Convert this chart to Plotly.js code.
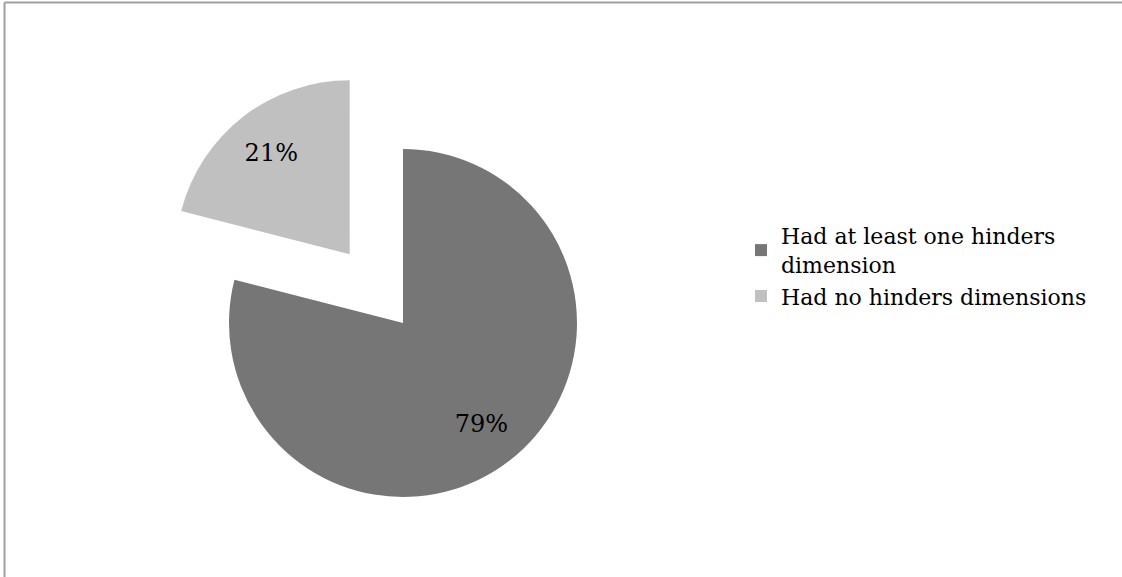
<!DOCTYPE html>
<html>
<head>
<meta charset="utf-8">
<script src="https://cdn.plot.ly/plotly-3.0.1.min.js"></script>
<style>
html,body{margin:0;padding:0;overflow:hidden;background:#fff;}
#chart{width:1122px;height:600px;}
</style>
</head>
<body>
<div id="chart"></div>
<script>
const categories = ["Had at least one hinders<br>dimension", "Had no hinders dimensions"];
const values = [79, 21];
const colors = ["#767676", "#c0c0c0"];
const pulls = [0, 0.5];

const W = 1122, H = 600;
const cx = 403, cy = 323, r = 174;
const half = r * (1 + 0.5);
const domain = {
  x: [(cx - half) / W, (cx + half) / W],
  y: [1 - (cy + half) / H, 1 - (cy - half) / H]
};

// visible slices
const pieTrace = {
  type: "pie",
  labels: categories,
  values: values,
  sort: false,
  direction: "clockwise",
  rotation: 0,
  pull: pulls,
  marker: {colors: colors, line: {width: 0}},
  textinfo: "none",
  hoverinfo: "none",
  domain: domain
};

// transparent copy carrying the percentage labels (hole pushes labels outward)
const labelTrace = {
  type: "pie",
  labels: categories,
  values: values,
  sort: false,
  direction: "clockwise",
  rotation: 0,
  pull: pulls,
  hole: 0.47,
  showlegend: false,
  marker: {colors: ["rgba(0,0,0,0)", "rgba(0,0,0,0)"], line: {width: 0}},
  textinfo: "percent",
  texttemplate: "%{percent:.0%}",
  textposition: "inside",
  insidetextorientation: "horizontal",
  insidetextfont: {family: "DejaVu Serif", size: 24, color: "#000"},
  hoverinfo: "none",
  domain: domain
};

const layout = {
  width: W, height: H,
  margin: {l: 0, r: 0, t: 0, b: 0},
  paper_bgcolor: "#fff",
  showlegend: true,
  legend: {
    x: 741 / W, y: 1 - 215 / H, xanchor: "left", yanchor: "top",
    font: {family: "DejaVu Serif", size: 22, color: "#000"},
    itemwidth: 30, tracegroupgap: 0,
    bgcolor: "rgba(0,0,0,0)"
  },
  shapes: [
    {type: "line", xref: "paper", yref: "paper", x0: 4.5 / W, x1: 1.2, y0: 1 - 2.5 / H, y1: 1 - 2.5 / H, line: {color: "#a0a0a0", width: 2}},
    {type: "line", xref: "paper", yref: "paper", x0: 4.5 / W, x1: 4.5 / W, y0: 1 - 2.5 / H, y1: -0.2, line: {color: "#a0a0a0", width: 2}}
  ]
};

Plotly.newPlot("chart", [pieTrace, labelTrace], layout, {displayModeBar: false, staticPlot: true});
</script>
</body>
</html>
